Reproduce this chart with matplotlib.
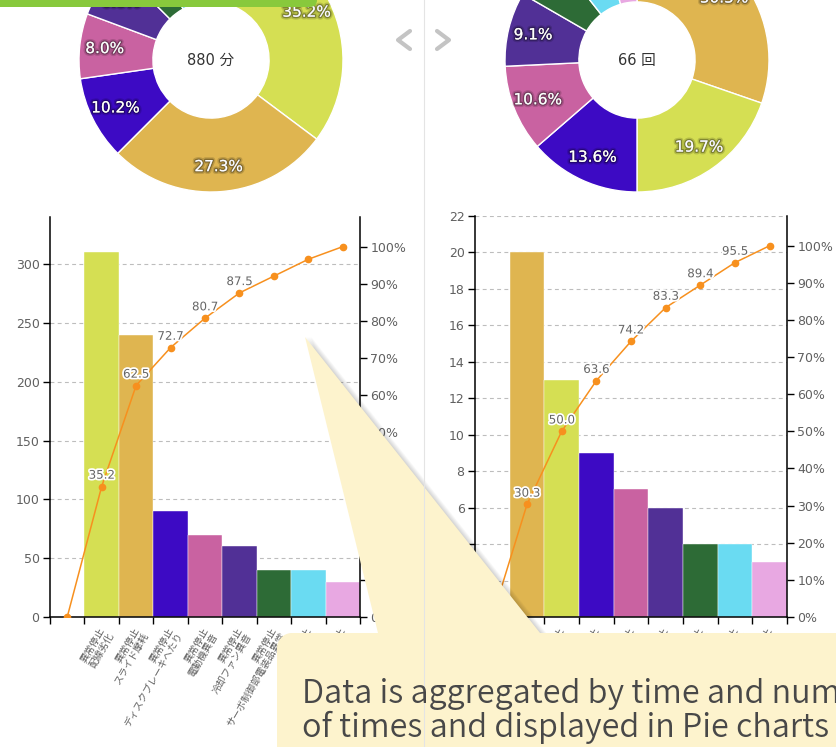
import numpy as np
import matplotlib
matplotlib.use("Agg")
import matplotlib.pyplot as plt
import matplotlib.patheffects as pe
from matplotlib.patches import Polygon, FancyBboxPatch
from matplotlib.ticker import StrMethodFormatter
from matplotlib.transforms import ScaledTranslation

W, H = 836, 747
DPI = 100

CJK = ["Noto Sans CJK JP", "DejaVu Sans"]
plt.rcParams["font.family"] = ["DejaVu Sans", "Noto Sans CJK JP"]

# Failure causes, each keeps its colour in both panels
causes = [
    "異常停止\n配線劣化",
    "異常停止\nスライド摩耗",
    "異常停止\nディスクブレーキへたり",
    "異常停止\n電動機異音",
    "異常停止\n冷却ファン異音",
    "異常停止\nサーボ制御部電装品異常",
    "異常停止\nセンサー異常",
    "異常停止\nベルト摩耗",
]
cause_colors = ["#D5DF53", "#DFB550", "#3D0AC4", "#C962A1",
                "#513096", "#2D6B36", "#6ADBF2", "#E8A8E2"]

# Left panel: downtime in minutes (Pareto order)
time_order = [0, 1, 2, 3, 4, 5, 6, 7]
time_minutes = [310, 240, 90, 70, 60, 40, 40, 30]
time_labelled = [1, 2, 3, 4, 5]
time_unit = "分"

# Right panel: number of stops (Pareto order)
count_order = [1, 0, 2, 3, 4, 5, 6, 7]
count_times = [20, 13, 9, 7, 6, 4, 4, 3]
count_labelled = [1, 2, 3, 4, 5, 6, 7]
count_unit = "回"

time_ymax, time_yticks = 340, np.arange(0, 301, 50)
count_ymax, count_yticks = 22, np.arange(0, 23, 2)
pct_ymax, pct_ticks = 108, np.arange(0, 101, 10)

note_lines = ["Data is aggregated by time and number",
              "of times and displayed in Pie charts"]

LINE_COLOR = "#F7901E"
TEXT_GRAY = "#606060"


def px_axes(fig, x0, y0, x1, y1, **kw):
    """Add axes from a pixel box (origin top-left)."""
    return fig.add_axes([x0 / W, 1 - y1 / H, (x1 - x0) / W, (y1 - y0) / H], **kw)


def draw_donut(fig, cx, cy, values, order, total_text):
    r = 132
    ax = px_axes(fig, cx - r, cy - r, cx + r, cy + r)
    _, _, pcts = ax.pie(
        values,
        colors=[cause_colors[i] for i in order],
        startangle=90,
        counterclock=False,
        wedgeprops=dict(width=0.56, edgecolor="white", linewidth=1),
        autopct=lambda p: f"{p:.1f}%",
        pctdistance=0.81,
        textprops=dict(color="white", fontsize=11),
    )
    for t in pcts:
        t.set_path_effects([
            pe.withStroke(linewidth=4, foreground=(0, 0, 0, 0.15)),
            pe.withStroke(linewidth=2, foreground=(0, 0, 0, 0.3)),
        ])
        # labels lying wholly above the page top are dropped
        if cy - t.get_position()[1] * r < -8:
            t.set_visible(False)
    ax.set_xlim(-1, 1)
    ax.set_ylim(-1, 1)
    ax.set_aspect("equal")
    ax.axis("off")
    ax.text(0, 0, total_text, ha="center", va="center", fontsize=10.5,
            color="#333333", family=["DejaVu Sans", "Noto Sans CJK JP"])


def draw_pareto(fig, box, values, order, ymax, yticks, labelled):
    ax = px_axes(fig, *box)
    n = len(values)
    pos = np.arange(1, n + 1)
    ax.bar(pos, values, width=1.0, color=[cause_colors[i] for i in order],
           edgecolor="white", linewidth=0.3, zorder=2)
    ax.set_xlim(-0.5, n + 0.5)
    ax.set_ylim(0, ymax)
    ax.set_yticks(yticks)
    ax.set_axisbelow(True)
    ax.yaxis.grid(True, linestyle=(0, (3.5, 3)), color="#BDBDBD", linewidth=0.8)

    for side in ("top", "right"):
        ax.spines[side].set_visible(False)
    for side in ("left", "bottom"):
        ax.spines[side].set_color("black")
        ax.spines[side].set_linewidth(1.1)

    ax.tick_params(axis="y", direction="out", length=5, width=1, color="black",
                   labelsize=9, labelcolor=TEXT_GRAY, pad=2.5)

    # category labels at slot centres, tick marks on slot borders
    ax.set_xticks(pos)
    ax.set_xticks(np.arange(-0.5, n + 1), minor=True)
    ax.tick_params(axis="x", which="major", length=0, pad=10)
    ax.tick_params(axis="x", which="minor", direction="out", length=5,
                   width=1, color="black")
    ax.set_xticklabels([causes[i] for i in order], rotation=60, ha="right",
                       va="center", rotation_mode="anchor", fontsize=7,
                       fontfamily=CJK, color=TEXT_GRAY, linespacing=1.05,
                       multialignment="right")
    shift = ScaledTranslation(4 / 72, 0, fig.dpi_scale_trans)
    for lab in ax.get_xticklabels():
        lab.set_transform(lab.get_transform() + shift)

    # cumulative share on the secondary axis
    cum = np.concatenate([[0.0], np.cumsum(values) / np.sum(values) * 100])
    ax2 = ax.twinx()
    ax2.plot(np.arange(n + 1), cum, color=LINE_COLOR, linewidth=1.1,
             marker="o", markersize=4.5, zorder=3)
    ax2.set_ylim(0, pct_ymax)
    ax2.set_yticks(pct_ticks)
    ax2.yaxis.set_major_formatter(StrMethodFormatter("{x:.0f}%"))
    for side in ("top", "left", "bottom"):
        ax2.spines[side].set_visible(False)
    ax2.spines["right"].set_color("black")
    ax2.spines["right"].set_linewidth(1.1)
    ax2.tick_params(axis="y", direction="out", length=5, width=1, color="black",
                    labelsize=9, labelcolor=TEXT_GRAY, pad=2.5)
    for i in labelled:
        ax2.annotate(f"{cum[i]:.1f}", (i, cum[i]), xytext=(0, 3.5),
                     textcoords="offset points", ha="center", va="bottom",
                     fontsize=8.5, color="#666666",
                     path_effects=[pe.withStroke(linewidth=2.5, foreground="white")])
    return ax, ax2


fig = plt.figure(figsize=(W / DPI, H / DPI), dpi=DPI)
fig.patch.set_facecolor("white")

draw_donut(fig, 211, 60, time_minutes, time_order,
           f"{sum(time_minutes)} {time_unit}")
draw_donut(fig, 637, 60, count_times, count_order,
           f"{sum(count_times)} {count_unit}")

draw_pareto(fig, (50, 217, 360, 617), time_minutes, time_order,
            time_ymax, time_yticks, time_labelled)
draw_pareto(fig, (475, 216, 787, 617), count_times, count_order,
            count_ymax, count_yticks, count_labelled)

# page decorations and the speech-bubble note, drawn in pixel space
ov = fig.add_axes([0, 0, 1, 1], zorder=10)
ov.set_xlim(0, W)
ov.set_ylim(H, 0)
ov.axis("off")
ov.patch.set_alpha(0)

ov.add_patch(FancyBboxPatch((-30, -30), 347, 37,
                            boxstyle="round,pad=0,rounding_size=7",
                            facecolor="#88C93C", edgecolor="none"))
ov.plot([424, 424], [0, H], color="#E4E4E4", linewidth=0.8)
for xs in ([410, 398, 410], [437, 449, 437]):
    ov.plot(xs, [31, 40, 49], color="#C4C4C4", linewidth=3,
            solid_capstyle="round", solid_joinstyle="round")

# bubble outline: tail apex, then the body with a rounded top-left corner
apex = (305, 337)
top_y, left_x, rad = 633, 277, 15
t = np.linspace(np.pi, 1.5 * np.pi, 12)
corner = np.column_stack([left_x + rad + rad * np.cos(t),
                          top_y + rad + rad * np.sin(t)])
bubble = np.vstack([
    [apex, (540, top_y), (W + 40, top_y), (W + 40, H + 40), (left_x, H + 40)],
    corner,
    [(378, top_y)],
])
for k in range(1, 8):
    ov.add_patch(Polygon(bubble + np.array([k * 0.9, 0.0]), closed=True,
                         facecolor="black", edgecolor="none", alpha=0.025))
ov.add_patch(Polygon(bubble, closed=True, facecolor="#FDF3CD", edgecolor="none"))

for line, y in zip(note_lines, (703, 737)):
    ov.text(302, y, line, fontsize=23.3, color="#484848", fontweight=350,
            family=["Noto Sans CJK JP"], va="baseline", ha="left")

fig.savefig("out.png", dpi=DPI)
